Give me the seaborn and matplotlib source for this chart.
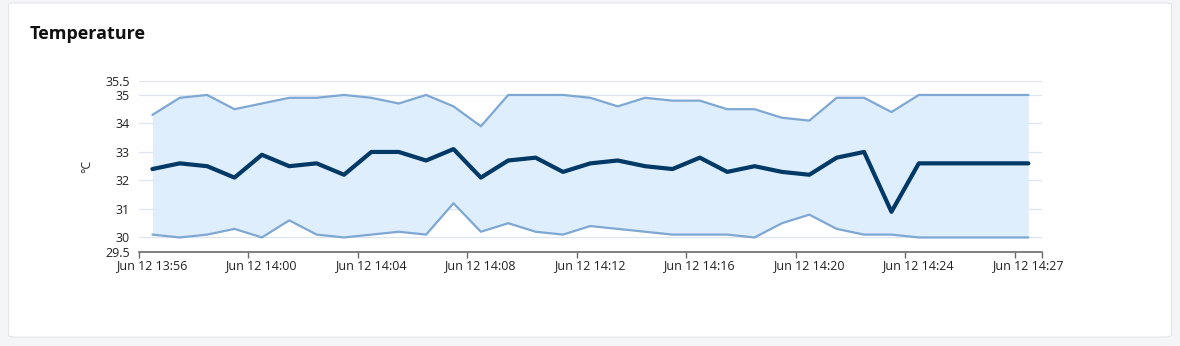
import numpy as np
import pandas as pd
import matplotlib
matplotlib.use("Agg")
import matplotlib.pyplot as plt
import matplotlib.transforms as mtransforms
from matplotlib.patches import FancyBboxPatch
import seaborn as sns

# ---- data ----
start_time = "2024-06-12 13:56:30"
temp_mean = [32.4, 32.6, 32.5, 32.1, 32.9, 32.5, 32.6, 32.2, 33.0, 33.0,
             32.7, 33.1, 32.1, 32.7, 32.8, 32.3, 32.6, 32.7, 32.5, 32.4,
             32.8, 32.3, 32.5, 32.3, 32.2, 32.8, 33.0, 30.9, 32.6, 32.6,
             32.6, 32.6, 32.6]
temp_max = [34.3, 34.9, 35.0, 34.5, 34.7, 34.9, 34.9, 35.0, 34.9, 34.7,
            35.0, 34.6, 33.9, 35.0, 35.0, 35.0, 34.9, 34.6, 34.9, 34.8,
            34.8, 34.5, 34.5, 34.2, 34.1, 34.9, 34.9, 34.4, 35.0, 35.0,
            35.0, 35.0, 35.0]
temp_min = [30.1, 30.0, 30.1, 30.3, 30.0, 30.6, 30.1, 30.0, 30.1, 30.2,
            30.1, 31.2, 30.2, 30.5, 30.2, 30.1, 30.4, 30.3, 30.2, 30.1,
            30.1, 30.1, 30.0, 30.5, 30.8, 30.3, 30.1, 30.1, 30.0, 30.0,
            30.0, 30.0, 30.0]
y_ticks = [29.5, 30, 31, 32, 33, 34, 35, 35.5]
x_tick_times = ["13:56", "14:00", "14:04", "14:08", "14:12", "14:16",
                "14:20", "14:24", "14:28", "14:29"]
x_tick_labels = ["Jun 12 13:56", "Jun 12 14:00", "Jun 12 14:04", "Jun 12 14:08",
                 "Jun 12 14:12", "Jun 12 14:16", "Jun 12 14:20", "Jun 12 14:24",
                 "Jun 12 14:27", ""]
x_start, x_end = "2024-06-12 13:56", "2024-06-12 14:29"

times = pd.date_range(start_time, periods=len(temp_mean), freq="1min")
df = pd.DataFrame({"time": times, "mean": temp_mean, "max": temp_max, "min": temp_min})

sns.set_theme(style="white")
plt.rcParams["font.family"] = ["Open Sans", "DejaVu Sans"]

W, H = 1180, 346
fig = plt.figure(figsize=(W / 100, H / 100), dpi=100)
fig.patch.set_facecolor("#f4f5f7")

# card
card = FancyBboxPatch((8.5 / W, 9 / H), (1163 / W), (334 / H),
                      boxstyle="round,pad=0,rounding_size=0.006",
                      transform=fig.transFigure, facecolor="white",
                      edgecolor="#e4e6ea", linewidth=0.8, zorder=-5)
fig.patches.append(card)

ax = fig.add_axes([138.7 / W, 1 - 251.7 / H, (1042 - 138.7) / W, (251.7 - 80.7) / H])
ax.set_facecolor("none")
ax.set_zorder(2)

band_color = "#dfeefc"
edge_color = "#7ea7d4"
mean_color = "#003866"

ax.fill_between(df["time"], df["min"], df["max"], color=band_color, lw=0, zorder=1)
sns.lineplot(data=df, x="time", y="max", ax=ax, color=edge_color, lw=1.6, zorder=2)
sns.lineplot(data=df, x="time", y="min", ax=ax, color=edge_color, lw=1.6, zorder=2)
sns.lineplot(data=df, x="time", y="mean", ax=ax, color=mean_color, lw=3.0, zorder=3)

ax.set_ylim(29.5, 35.5)
ax.set_yticks(y_ticks)
ax.set_yticklabels([f"{v:g}" for v in y_ticks])
ax.set_xlim(pd.Timestamp(x_start), pd.Timestamp(x_end))
tick_pos = [pd.Timestamp(f"2024-06-12 {t}") for t in x_tick_times]
ax.set_xticks(tick_pos)
ax.set_xticklabels(x_tick_labels)

for v in y_ticks[1:]:
    ax.axhline(v, color="#dde6f0", lw=0.9, zorder=0.5)

for s in ["top", "right", "left"]:
    ax.spines[s].set_visible(False)
ax.spines["bottom"].set_color("#6b6b6b")
ax.spines["bottom"].set_linewidth(1.2)
ax.tick_params(axis="x", bottom=True, length=4.5, width=1, color="#6b6b6b",
               labelsize=9, labelcolor="#222222", pad=0.5)
ax.tick_params(axis="y", left=False, length=0, labelsize=9, labelcolor="#222222", pad=6.5)
ax.set_xlabel("")
ax.set_ylabel("°C", fontsize=9, color="#222222")
ax.yaxis.set_label_coords((93 - 138.7) / (1042 - 138.7), 0.5)

offset = mtransforms.ScaledTranslation(12.7 / 100, 0, fig.dpi_scale_trans)
for lbl in ax.get_xticklabels():
    lbl.set_transform(lbl.get_transform() + offset)

fig.text(30 / W, 1 - 39 / H, "Temperature", fontsize=13, fontweight="bold",
         color="#111111", ha="left", va="baseline")

fig.savefig("out.png", dpi=100)
